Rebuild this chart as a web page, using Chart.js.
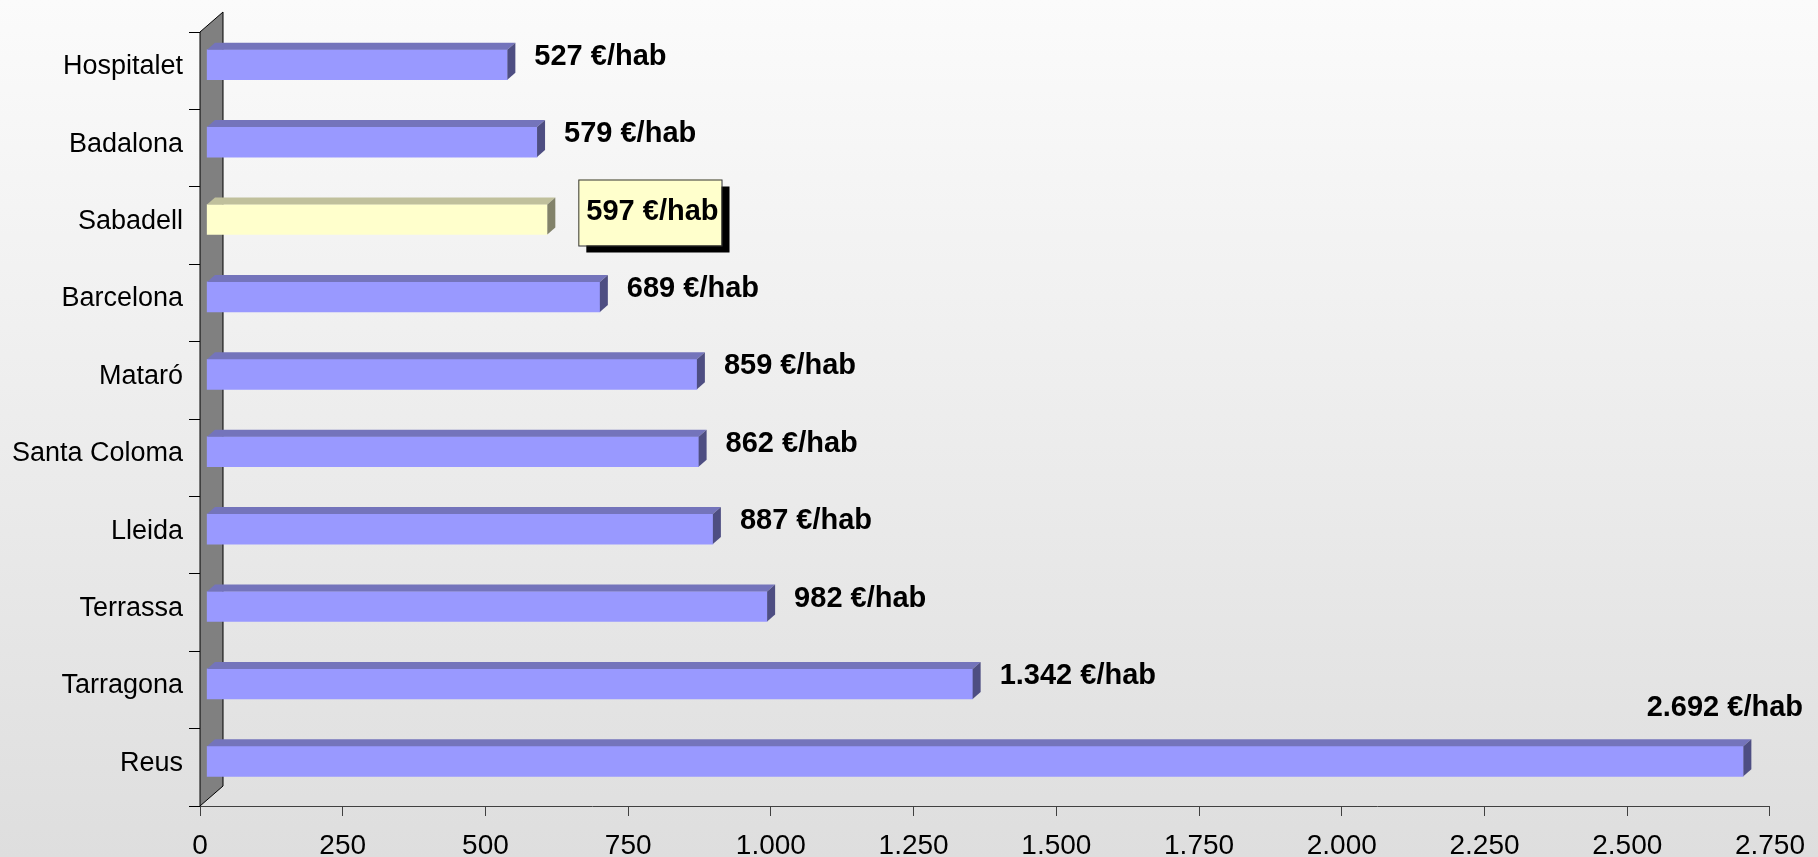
<!DOCTYPE html>
<html>
<head>
<meta charset="utf-8">
<script src="https://cdn.jsdelivr.net/npm/chart.js@4.4.1/dist/chart.umd.min.js"></script>
<style>
  html, body { margin: 0; padding: 0; }
  body { width: 1818px; height: 857px; overflow: hidden; background: linear-gradient(#fbfbfb, #dedede); }
</style>
</head>
<body>
<canvas id="gasto" width="1818" height="857"></canvas>
<script>
// --- dades ----------------------------------------------------------
const ciutats = ['Hospitalet', 'Badalona', 'Sabadell', 'Barcelona', 'Mataró', 'Santa Coloma', 'Lleida', 'Terrassa', 'Tarragona', 'Reus'];
const eurosHab = [527, 579, 597, 689, 859, 862, 887, 982, 1342, 2692];
const destacada = 'Sabadell';
const eixMax = 2750;
const eixPas = 250;
const unitat = ' €/hab';

const fmt = v => String(v).replace(/\B(?=(\d{3})+(?!\d))/g, '.');

const COLORS = {
  normal:    { front: '#9999ff', top: '#7474bb', side: '#4e4e82' },
  destacada: { front: '#ffffcc', top: '#c0c09c', side: '#82826a' },
};
const colorDe = i => ciutats[i] === destacada ? COLORS.destacada : COLORS.normal;

// projeccio 3D (pseudo)
const DEPTH = { dx: 8, dy: 7, shiftX: 6.5, shiftY: -6, wallX: 23, wallY: 20 };
const FONT = '"Liberation Sans", Arial, sans-serif';

// --- paret + cares 3D de les barres -----------------------------------
const bars3d = {
  id: 'bars3d',
  beforeDatasetsDraw(chart) {
    const { ctx, chartArea: a } = chart;
    ctx.save();
    ctx.beginPath();
    ctx.moveTo(a.left, a.bottom);
    ctx.lineTo(a.left, a.top);
    ctx.lineTo(a.left + DEPTH.wallX, a.top - DEPTH.wallY);
    ctx.lineTo(a.left + DEPTH.wallX, a.bottom - DEPTH.wallY);
    ctx.closePath();
    ctx.fillStyle = '#808080';
    ctx.fill();
    ctx.strokeStyle = '#000';
    ctx.lineWidth = 1;
    ctx.stroke();
    ctx.restore();

    ctx.save();
    ctx.translate(DEPTH.shiftX, DEPTH.shiftY);
  },
  afterDatasetsDraw(chart) {
    const { ctx } = chart;
    const { dx, dy } = DEPTH;
    chart.getDatasetMeta(0).data.forEach((bar, i) => {
      const c = colorDe(i);
      const { x, y, base, height } = bar.getProps(['x', 'y', 'base', 'height'], true);
      const t = y - height / 2, b = y + height / 2;
      // cara superior
      ctx.fillStyle = c.top;
      ctx.beginPath();
      ctx.moveTo(base, t);
      ctx.lineTo(base + dx, t - dy);
      ctx.lineTo(x + dx, t - dy);
      ctx.lineTo(x, t);
      ctx.closePath();
      ctx.fill();
      // cara lateral
      ctx.fillStyle = c.side;
      ctx.beginPath();
      ctx.moveTo(x, t);
      ctx.lineTo(x + dx, t - dy);
      ctx.lineTo(x + dx, b - dy);
      ctx.lineTo(x, b);
      ctx.closePath();
      ctx.fill();
    });
    ctx.restore();
  }
};

// --- etiquetes de valor ---------------------------------------------
const etiquetes = {
  id: 'etiquetes',
  afterDraw(chart) {
    const { ctx, width } = chart;
    ctx.save();
    ctx.font = 'bold 29px ' + FONT;
    ctx.textBaseline = 'middle';
    ctx.textAlign = 'left';
    chart.getDatasetMeta(0).data.forEach((bar, i) => {
      const txt = fmt(eurosHab[i]) + unitat;
      const w = ctx.measureText(txt).width;
      const endX = bar.x + DEPTH.shiftX + DEPTH.dx;
      const cy = bar.y + DEPTH.shiftY;
      let lx = endX + 19, ly = cy - 8;
      if (lx + w > width - 14) {
        lx = width - 15 - w;
        ly = cy - 53;
      }
      if (ciutats[i] === destacada) {
        lx += 12;
        const bx = lx - 8, by = ly - 32, bw = w + 11, bh = 66;
        ctx.fillStyle = '#000';
        ctx.fillRect(bx + 8, by + 7, bw, bh);
        ctx.fillStyle = '#ffffcc';
        ctx.fillRect(bx, by, bw, bh);
        ctx.strokeStyle = '#333';
        ctx.lineWidth = 1;
        ctx.strokeRect(bx + 0.5, by + 0.5, bw, bh);
      }
      ctx.fillStyle = '#000';
      ctx.fillText(txt, lx, ly);
    });
    ctx.restore();
  }
};

new Chart(document.getElementById('gasto'), {
  type: 'bar',
  data: {
    labels: ciutats,
    datasets: [{
      data: eurosHab,
      backgroundColor: ciutats.map((_, i) => colorDe(i).front),
      borderWidth: 0,
      barThickness: 30,
    }]
  },
  options: {
    indexAxis: 'y',
    responsive: false,
    animation: false,
    devicePixelRatio: 1,
    layout: { padding: { top: 32, right: 43, left: 0, bottom: 0 } },
    plugins: { legend: { display: false }, tooltip: { enabled: false } },
    scales: {
      x: {
        min: 0,
        max: eixMax,
        afterFit: s => { s.height = 51; },
        ticks: {
          stepSize: eixPas,
          color: '#000',
          padding: 13,
          maxRotation: 0,
          font: { family: FONT, size: 28 },
          callback: v => fmt(v),
        },
        grid: { drawOnChartArea: false, drawTicks: true, tickLength: 10, color: '#404040' },
        border: { display: true, color: '#404040', width: 1 },
      },
      y: {
        afterFit: s => { s.width = 200; },
        ticks: {
          color: '#000',
          padding: 6,
          labelOffset: -4,
          font: { family: FONT, size: 27 },
        },
        grid: { drawOnChartArea: false, drawTicks: true, tickLength: 11, offset: true, color: '#000' },
        border: { display: false },
      }
    }
  },
  plugins: [bars3d, etiquetes]
});
</script>
</body>
</html>
